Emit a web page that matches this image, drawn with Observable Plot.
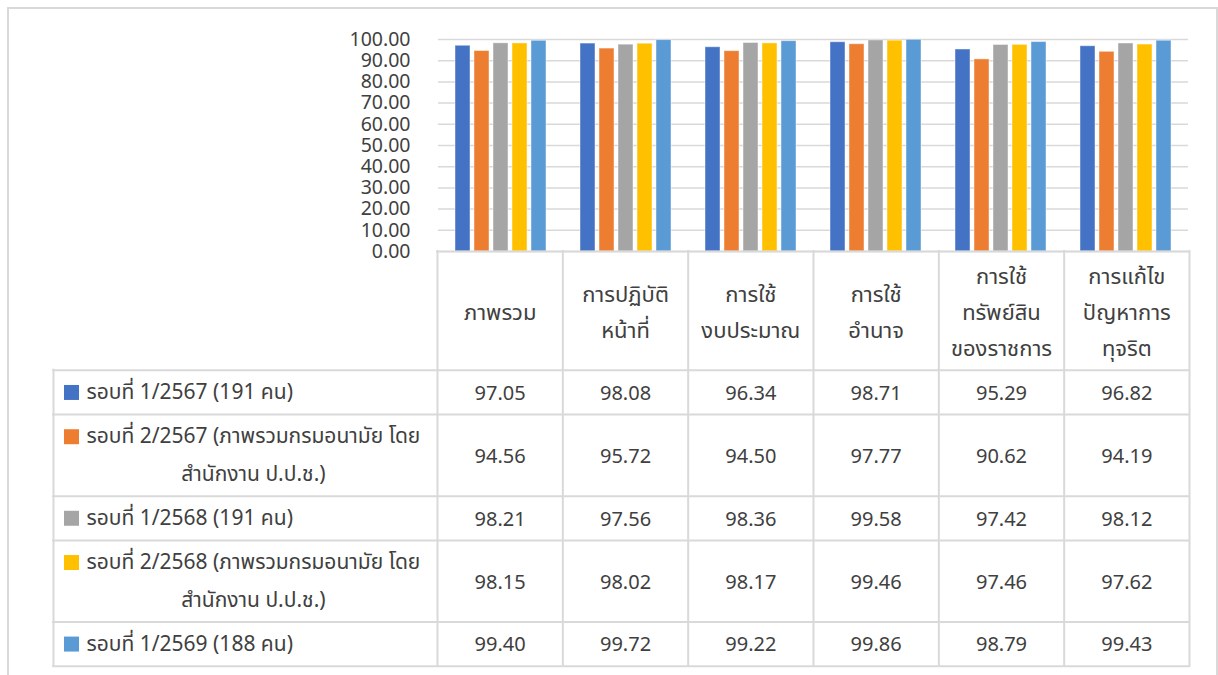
<!DOCTYPE html>
<html>
<head>
<meta charset="utf-8">
<script src="https://cdn.jsdelivr.net/npm/d3@7"></script>
<script src="https://cdn.jsdelivr.net/npm/@observablehq/plot@0.6"></script>
<style>
  html, body { margin: 0; padding: 0; background: #ffffff; }
  #wrap { position: relative; width: 1218px; height: 675px; overflow: hidden; background: #fff; }
  #frame { position: absolute; left: 7px; top: 7px; width: 1207px; height: 720px;
           border: 2px solid #d9d9d9; border-bottom: none; box-sizing: content-box; }
  #top { position: absolute; left: 0; top: 0; }
  #table { position: absolute; left: 0; top: 248px; }
  svg { overflow: visible; }
</style>
</head>
<body>
<div id="wrap"><div id="frame"></div><div id="top"></div><div id="table"></div></div>
<script>
// ---------- data ----------
const categories = [
  "ภาพรวม",
  "การปฏิบัติ\nหน้าที่",
  "การใช้\nงบประมาณ",
  "การใช้\nอำนาจ",
  "การใช้\nทรัพย์สิน\nของราชการ",
  "การแก้ไข\nปัญหาการ\nทุจริต"
];
const series = [
  "รอบที่ 1/2567 (191 คน)",
  "รอบที่ 2/2567 (ภาพรวมกรมอนามัย โดย\nสำนักงาน ป.ป.ช.)",
  "รอบที่ 1/2568 (191 คน)",
  "รอบที่ 2/2568 (ภาพรวมกรมอนามัย โดย\nสำนักงาน ป.ป.ช.)",
  "รอบที่ 1/2569 (188 คน)"
];
const colors = ["#4472C4", "#ED7D31", "#A5A5A5", "#FFC000", "#5B9BD5"];
const round1_2567 = [97.05, 98.08, 96.34, 98.71, 95.29, 96.82];
const round2_2567 = [94.56, 95.72, 94.50, 97.77, 90.62, 94.19];
const round1_2568 = [98.21, 97.56, 98.36, 99.58, 97.42, 98.12];
const round2_2568 = [98.15, 98.02, 98.17, 99.46, 97.46, 97.62];
const round1_2569 = [99.40, 99.72, 99.22, 99.86, 98.79, 99.43];
const seriesValues = [round1_2567, round2_2567, round1_2568, round2_2568, round1_2569];
const yTicks = [0, 10, 20, 30, 40, 50, 60, 70, 80, 90, 100];

const data = series.flatMap((s, i) =>
  categories.map((c, j) => ({series: s, category: c, value: seriesValues[i][j]})));

// ---------- styles ----------
const FONT = "Tahoma, 'Noto Sans', 'Noto Sans Thai', Loma, Garuda, 'Tlwg Typo', 'DejaVu Sans', sans-serif";
const TEXT = "#404040";
const LINE = "#d9d9d9";
const FS_TICK = 19.5, FS_VAL = 20, FS_LAB = 21, FS_HEAD = 22;

// ---------- chart ----------
const chart = Plot.plot({
  width: 1218, height: 252,
  marginLeft: 437, marginRight: 29, marginTop: 39, marginBottom: 1,
  style: {fontFamily: FONT, fontSize: FS_TICK + "px", color: TEXT, background: "transparent"},
  fx: {domain: categories, padding: 0, axis: null},
  x: {domain: series, paddingInner: 0.22, paddingOuter: 0.86, axis: null},
  y: {domain: [0, 100], axis: null},
  color: {domain: series, range: colors},
  marks: [
    Plot.gridY(yTicks, {stroke: LINE, strokeOpacity: 1, strokeWidth: 1.5}),
    Plot.barY(data, {fx: "category", x: "series", y: "value", fill: "series",
                     stroke: "#ffffff", strokeOpacity: 0.45, strokeWidth: 1}),
    Plot.axisY(yTicks, {tickFormat: d => d.toFixed(2), tickSize: 0, tickPadding: 28,
                        fontSize: FS_TICK, fill: TEXT, label: null})
  ]
});
document.getElementById("top").appendChild(chart);

// ---------- data table ----------
const pad = 0.187;
const L = 3.064;                 // width of the label column, in category-column units
const tableLeft = 53, tableRight = 1189;
const colPx = (tableRight - tableLeft) / (categories.length + L);
const headerLines = d3.max(categories, c => c.split("\n").length);
const rowLines = series.map(s => s.split("\n").length);
const rowUnits = [headerLines + pad, ...rowLines.map(n => n + pad)];
const bounds = [0, ...d3.cumsum(rowUnits)];
const total = bounds[bounds.length - 1];
const tableTop = 3, tablePx = 414.7;

const hLines = bounds.map((b, i) => ({y: b, x1: i === 0 ? 0 : -L, x2: categories.length}));
const vLines = [
  ...d3.range(categories.length + 1).map(x => ({x, y1: 0, y2: total})),
  {x: -L, y1: bounds[1], y2: total}
];
const headerCells = categories.map((c, j) => ({text: c, x: j + 0.5, y: bounds[1] / 2}));
const valueCells = data.map(d => {
  const i = series.indexOf(d.series), j = categories.indexOf(d.category);
  return {text: d.value.toFixed(2), x: j + 0.5, y: bounds[i + 1] + rowUnits[i + 1] / 2};
});

// text measuring for wrapped legend labels (first line left-aligned after key, rest centered under it)
const ctx = document.createElement("canvas").getContext("2d");
ctx.font = `${FS_LAB}px ${FONT}`;
const keyOffset = 18, textOffset = 33;
const labelKeys = series.map((s, i) => ({series: s, y: bounds[i + 1] + pad / 2 + 0.5}));
const labelLines = series.flatMap((s, i) => {
  const lines = s.split("\n");
  const w0 = ctx.measureText(lines[0]).width;
  return lines.map((t, li) => ({
    text: t,
    x: -L + (li === 0 ? textOffset : textOffset + w0 / 2) / colPx,
    anchor: li === 0 ? "start" : "middle",
    y: bounds[i + 1] + pad / 2 + 0.5 + li
  }));
});

const table = Plot.plot({
  width: 1218, height: 427,
  marginLeft: tableLeft, marginRight: 1218 - tableRight, marginTop: tableTop, marginBottom: 427 - tableTop - tablePx,
  style: {fontFamily: FONT, fontSize: FS_VAL + "px", color: TEXT, background: "transparent"},
  x: {type: "linear", domain: [-L, categories.length], range: [tableLeft, tableRight], axis: null},
  y: {type: "linear", domain: [0, total], range: [tableTop, tableTop + tablePx], axis: null},
  color: {domain: series, range: colors},
  marks: [
    Plot.ruleY(hLines, {y: "y", x1: "x1", x2: "x2", stroke: LINE, strokeWidth: 2, strokeLinecap: "square"}),
    Plot.ruleX(vLines, {x: "x", y1: "y1", y2: "y2", stroke: LINE, strokeWidth: 2, strokeLinecap: "square"}),
    Plot.text(headerCells, {x: "x", y: "y", text: "text", fill: TEXT, fontSize: FS_HEAD,
                            lineHeight: 36 / FS_HEAD, textAnchor: "middle", dy: -2}),
    Plot.text(valueCells, {x: "x", y: "y", text: "text", fill: TEXT, fontSize: FS_VAL, textAnchor: "middle", dy: 1}),
    Plot.dot(labelKeys, {x: () => -L, y: "y", dx: keyOffset, symbol: "square", r: 8.46,
                         fill: "series", stroke: null}),
    Plot.text(labelLines.filter(d => d.anchor === "start"), {x: "x", y: "y", text: "text",
                         fill: TEXT, fontSize: FS_LAB, textAnchor: "start"}),
    Plot.text(labelLines.filter(d => d.anchor === "middle"), {x: "x", y: "y", text: "text",
                         fill: TEXT, fontSize: FS_LAB, textAnchor: "middle"})
  ]
});
document.getElementById("table").appendChild(table);
</script>
</body>
</html>
